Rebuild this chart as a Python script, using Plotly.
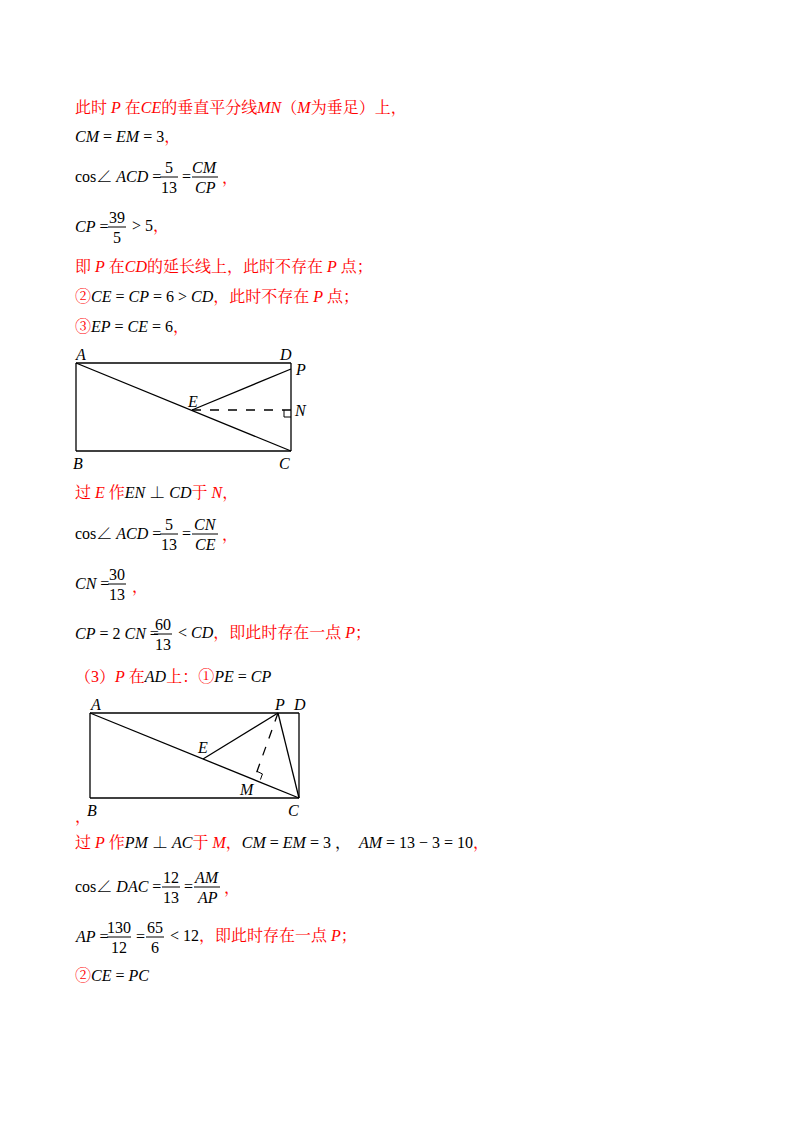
import plotly.graph_objects as go
import math

R = "#ff0000"
FONT = "Liberation Serif, Noto Serif CJK SC, Noto Sans CJK SC"
FS = 16

def red(s): return f"<span style='color:{R}'>{s}</span>"
def it(s): return f"<i>{s}</i>"

# text lines: (x, y, html)
lines = [
    (73, 108, red("此时 " + it("P") + " 在" + it("CE") + "的垂直平分线" + it("MN") + "（" + it("M") + "为垂足）上，")),
    (73, 137, it("CM") + " = " + it("EM") + " = 3" + red("，")),
    (73, 176, "cos∠ " + it("ACD") + " ="),
    (180, 176, "="),
    (220, 178, red("，")),
    (73, 226, it("CP") + " ="),
    (130, 226, "> 5" + red("，")),
    (73, 267, red("即 " + it("P") + " 在" + it("CD") + "的延长线上，此时不存在 " + it("P") + " 点；")),
    (73, 297, red("②") + it("CE") + " = " + it("CP") + " = 6 > " + it("CD") + red("，此时不存在 " + it("P") + " 点；")),
    (73, 327, red("③") + it("EP") + " = " + it("CE") + " = 6" + red("，")),
    (73, 493, red("过 " + it("E") + " 作") + it("EN") + " ⊥ " + it("CD") + red("于 " + it("N") + "，")),
    (73, 533, "cos∠ " + it("ACD") + " ="),
    (180, 533, "="),
    (220, 535, red("，")),
    (73, 583, it("CN") + " ="),
    (130, 587, red("，")),
    (73, 633, it("CP") + " = 2 " + it("CN") + " ="),
    (176, 633, "< " + it("CD") + red("，即此时存在一点 " + it("P") + "；")),
    (73, 676, red("（3）" + it("P") + " 在") + it("AD") + red("上：①") + it("PE") + " = " + it("CP")),
    (73, 817, red("，")),
    (73, 843, red("过 " + it("P") + " 作") + it("PM") + " ⊥ " + it("AC") + red("于 " + it("M") + "，") + it("CM") + " = " + it("EM") + " = 3 ，  " + it("AM") + " = 13 − 3 = 10" + red("，")),
    (73, 886, "cos∠ " + it("DAC") + " ="),
    (182, 886, "="),
    (222, 888, red("，")),
    (73, 936, it("AP") + " ="),
    (134, 936, "="),
    (168, 936, "< 12" + red("，即此时存在一点 " + it("P") + "；")),
    (73, 975, red("②") + it("CE") + " = " + it("PC")),
]

# fractions: (x_center, y_bar, numerator, denominator, halfwidth)
fracs = [
    (169, 177, "5", "13", 9),
    (205, 177, it("CM"), it("CP"), 13),
    (117, 227, "39", "5", 9),
    (169, 534, "5", "13", 9),
    (205, 534, it("CN"), it("CE"), 13),
    (117, 584, "30", "13", 9),
    (163, 634, "60", "13", 9),
    (171, 887, "12", "13", 9),
    (207, 887, it("AM"), it("AP"), 13),
    (119, 937, "130", "12", 12),
    (155, 937, "65", "6", 9),
]

# diagram 1 vertices
d1 = {"A": (76, 363), "D": (291, 363), "B": (76, 451), "C": (291, 451),
      "E": (192, 410), "P": (291, 369), "N": (291, 410)}
d1_lab = {"A": (80, 354), "D": (285, 354), "P": (300, 369), "E": (192, 401),
          "N": (300, 410), "B": (78, 463), "C": (284, 463)}
# diagram 2 vertices
d2 = {"A": (90, 713), "D": (299, 713), "B": (90, 798), "C": (299, 798),
      "P": (278, 713), "E": (203, 759), "M": (255, 777)}
d2_lab = {"A": (95, 704), "P": (279, 704), "D": (299, 704), "E": (202, 747),
          "M": (247, 789), "B": (92, 810), "C": (293, 810)}

fig = go.Figure()

def seg(p, q, dash="solid"):
    fig.add_trace(go.Scatter(x=[p[0], q[0]], y=[p[1], q[1]], mode="lines",
                             line=dict(color="black", width=1.3, dash=dash),
                             hoverinfo="skip", showlegend=False))

for a, b in [("A", "D"), ("D", "C"), ("C", "B"), ("B", "A"), ("A", "C"), ("E", "P")]:
    seg(d1[a], d1[b])
seg(d1["E"], d1["N"], "dash")
n = d1["N"]
fig.add_trace(go.Scatter(x=[n[0] - 7, n[0] - 7, n[0]], y=[n[1], n[1] + 7, n[1] + 7], mode="lines",
                         line=dict(color="black", width=1), showlegend=False, hoverinfo="skip"))
for a, b in [("A", "D"), ("D", "C"), ("C", "B"), ("B", "A"), ("A", "C"), ("E", "P"), ("P", "C")]:
    seg(d2[a], d2[b])
seg(d2["P"], d2["M"], "dash")
m, c, p = d2["M"], d2["C"], d2["P"]
ux, uy = (c[0] - m[0]), (c[1] - m[1]); l = math.hypot(ux, uy); ux, uy = ux / l * 6, uy / l * 6
vx, vy = (p[0] - m[0]), (p[1] - m[1]); l = math.hypot(vx, vy); vx, vy = vx / l * 6, vy / l * 6
fig.add_trace(go.Scatter(x=[m[0] + ux, m[0] + ux + vx, m[0] + vx], y=[m[1] + uy, m[1] + uy + vy, m[1] + vy],
                         mode="lines", line=dict(color="black", width=1), showlegend=False, hoverinfo="skip"))

ann = []
for x, y, t in lines:
    ann.append(dict(x=x, y=y, text=t, xanchor="left", yanchor="middle", showarrow=False,
                    font=dict(size=FS, color="black", family=FONT)))
shapes = []
for xc, yb, nu, de, hw in fracs:
    ann.append(dict(x=xc, y=yb - 10, text=nu, showarrow=False, xanchor="center", yanchor="middle",
                    font=dict(size=FS, color="black", family=FONT)))
    ann.append(dict(x=xc, y=yb + 10, text=de, showarrow=False, xanchor="center", yanchor="middle",
                    font=dict(size=FS, color="black", family=FONT)))
    shapes.append(dict(type="line", x0=xc - hw, x1=xc + hw, y0=yb, y1=yb, line=dict(color="black", width=1)))
for lab in (d1_lab, d2_lab):
    for k, (x, y) in lab.items():
        ann.append(dict(x=x, y=y, text=it(k), showarrow=False, xanchor="center", yanchor="middle",
                        font=dict(size=FS, color="black", family=FONT)))

# page offset compensates for the 8px body margin of the html page
fig.update_layout(width=800, height=1132, margin=dict(l=0, r=0, t=0, b=0),
                  paper_bgcolor="white", plot_bgcolor="white",
                  xaxis=dict(range=[8, 808], visible=False, fixedrange=True),
                  yaxis=dict(range=[1140, 8], visible=False, fixedrange=True),
                  annotations=ann, shapes=shapes)
fig.write_html("out.html", config={"displayModeBar": False})
